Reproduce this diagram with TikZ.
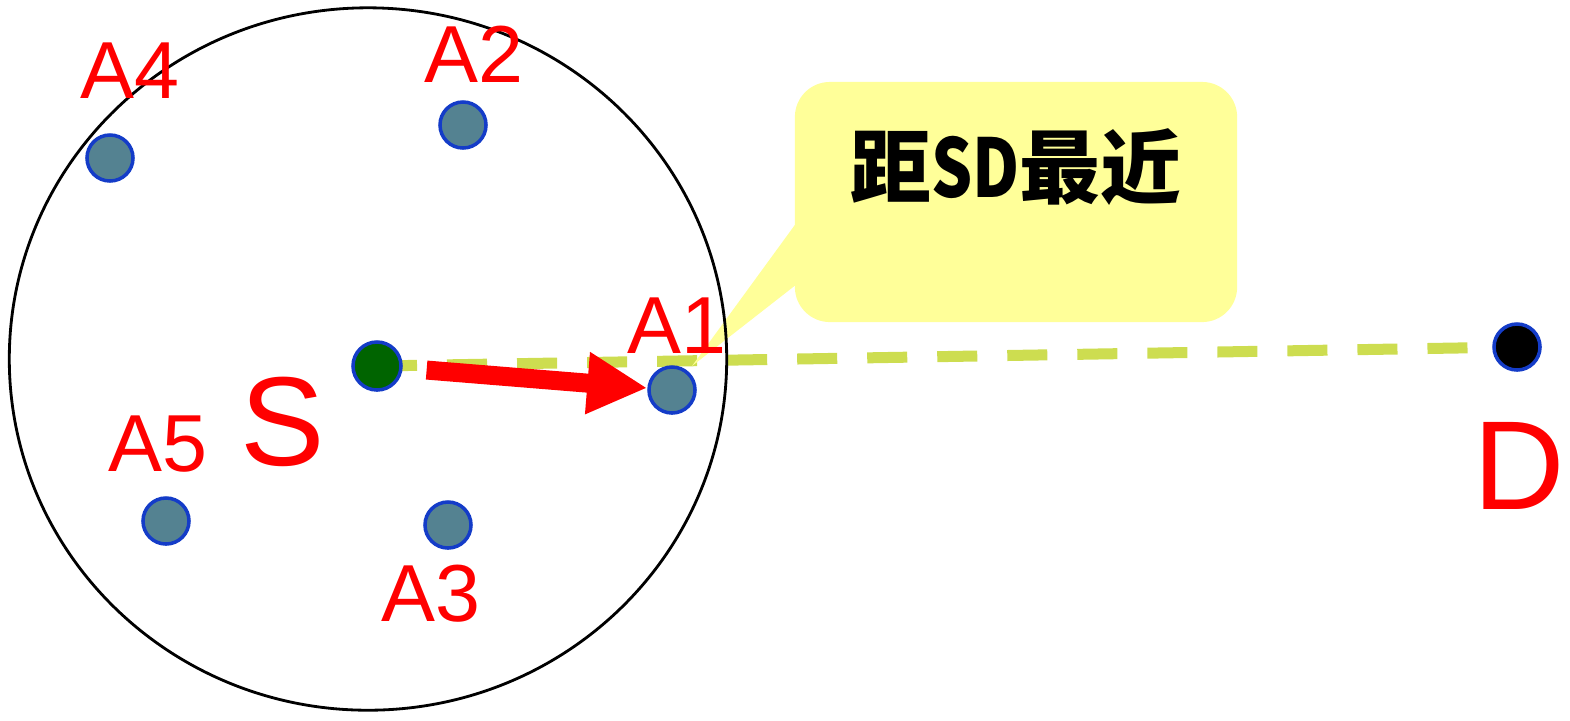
\documentclass[tikz,border=0pt]{standalone}
\usepackage{fontspec}
\setmainfont{Liberation Sans}
\newfontfamily\cjk{Noto Sans CJK SC}
\usepackage{graphicx}
\usetikzlibrary{arrows.meta, shapes.geometric, backgrounds}
\definecolor{dotteal}{RGB}{84,130,145}
\definecolor{dotblue}{RGB}{20,60,200}
\definecolor{srcgreen}{RGB}{0,100,0}
\definecolor{routegreen}{RGB}{205,221,80}
\definecolor{notefill}{RGB}{255,255,153}

\begin{document}
\begin{tikzpicture} % one unit is one pixel of the screenshot, y runs down
    [x=0.01cm, y=-0.01cm,
      dot/.style={circle, inner sep=0pt, minimum size=0.46cm, draw=dotblue, line width=1pt, fill=dotteal},
      lbl/.style={text=red, inner sep=0pt, font=\fontsize{23}{23}\selectfont},
      biglbl/.style={text=red, inner sep=0pt, font=\fontsize{36}{36}\selectfont},
      route/.style={draw=routegreen, line width=0.11cm, dash pattern=on 0.4cm off 0.3cm},
      hop/.style={draw=red, line width=0.19cm, shorten <=0.24cm, -{Triangle[length=0.6cm, width=0.58cm]}},
      note/.style={fill=notefill, rounded corners=0.35cm, minimum width=4.42cm, minimum height=2.4cm}]
    \useasboundingbox (0,0) rectangle (1570,720);

    % the callout with its pointer
    \node[note] (note) at (1016,202) {};
    \coordinate (tip) at (692,366);
    \fill[notefill] (797,222) -- (tip) -- (797,284) -- cycle;
    \node[font=\cjk\bfseries\fontsize{23}{23}\selectfont] (notetext) at (1016,167) {距\scalebox{0.8}[1]{SD}最近};

    % transmission range of S
    \node[draw, ellipse, line width=0.8pt, minimum width=7.17cm, minimum height=7.02cm] (range) at (368,359) {};

    % source, neighbours and destination
    \node[dot, fill=srcgreen, minimum size=0.48cm] (S) at (377,366) {};
    \node[dot] (A1) at (672,390) {};
    \node[dot] (A2) at (463,125) {};
    \node[dot] (A3) at (448,525) {};
    \node[dot] (A4) at (110,158) {};
    \node[dot] (A5) at (166,521) {};
    \node[dot, fill=black] (D) at (1517,347) {};

    \node[biglbl] (Slbl) at (283,422) {S};
    \node[biglbl] (Dlbl) at (1519,466) {D};
    \node[lbl] (A1lbl) at (677,326) {A1};
    \node[lbl] (A2lbl) at (474,54) {A2};
    \node[lbl] (A3lbl) at (431,594) {A3};
    \node[lbl] (A4lbl) at (130,71) {A4};
    \node[lbl] (A5lbl) at (158,444) {A5};

    % line S--D under everything, next hop S->A1
    \begin{scope}[on background layer]
      \draw[route] (S.center) -- (D.center);
    \end{scope}
    \draw[hop] (S) -- (A1);
\end{tikzpicture}
\end{document}
